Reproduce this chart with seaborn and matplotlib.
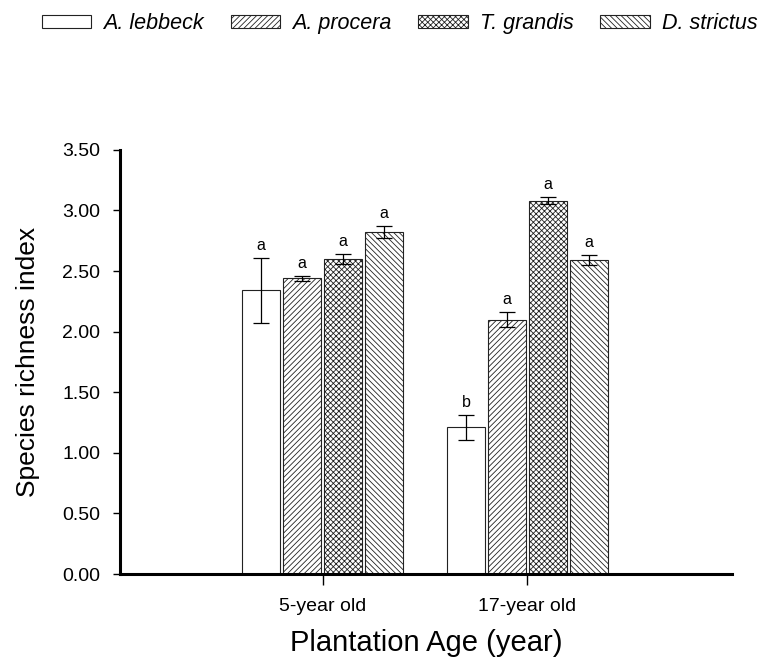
import matplotlib
matplotlib.use("Agg")
import matplotlib.pyplot as plt
import numpy as np
import pandas as pd
import seaborn as sns
from matplotlib.patches import Patch

# data
ages = ["5-year old", "17-year old"]
species = ["A. lebbeck", "A. procera", "T. grandis", "D. strictus"]
richness_5yr = [2.34, 2.44, 2.60, 2.82]
richness_17yr = [1.21, 2.10, 3.08, 2.59]
err_5yr = [0.27, 0.02, 0.04, 0.05]
err_17yr = [0.10, 0.06, 0.03, 0.04]
letters_5yr = ["a", "a", "a", "a"]
letters_17yr = ["b", "a", "a", "a"]

hatches = ["", "//////", "xxxxxx", "\\\\\\\\\\\\"]

df = pd.DataFrame({
    "age": np.repeat(ages, len(species)),
    "species": species * len(ages),
    "value": richness_5yr + richness_17yr,
    "err": err_5yr + err_17yr,
    "letter": letters_5yr + letters_17yr,
})

sns.set_style("ticks")
plt.rcParams["font.family"] = ["Liberation Sans", "DejaVu Sans"]
plt.rcParams["hatch.linewidth"] = 0.6
plt.rcParams["hatch.color"] = "black"
for key in ["text.color", "axes.labelcolor", "xtick.color", "ytick.color", "axes.edgecolor"]:
    plt.rcParams[key] = "black"

fig = plt.figure(figsize=(7.58, 6.66), dpi=100)
ax = fig.add_axes([0.158, 0.138, 0.808, 0.637])

sns.barplot(data=df, x="age", y="value", hue="species", order=ages,
            hue_order=species, palette=["white"] * 4, edgecolor="#222222",
            linewidth=0.8, width=0.8, gap=0.08, errorbar=None, legend=False, ax=ax)

# bars come in hue order, each with one patch per age
for i, sp in enumerate(species):
    for j, age in enumerate(ages):
        bar = ax.patches[i * len(ages) + j]
        bar.set_hatch(hatches[i])
        row = df[(df.age == age) & (df.species == sp)].iloc[0]
        xc = bar.get_x() + bar.get_width() / 2
        ax.errorbar(xc, row.value, yerr=row.err, color="black", capsize=6,
                    elinewidth=0.9, capthick=0.9)
        ax.text(xc, row.value + row.err + 0.04, row.letter, ha="center",
                va="bottom", fontsize=11.5)

ax.set_xlim(-0.99, 2.0)
ax.set_ylim(0, 3.5)
ax.set_yticks(np.arange(0, 3.51, 0.5))
ax.set_yticklabels([f"{v:.2f}" for v in np.arange(0, 3.51, 0.5)], fontsize=14)
ax.tick_params(axis="x", labelsize=14, length=8, width=1, pad=9)
ax.tick_params(axis="y", length=5, width=1, pad=9)
for side in ["left", "bottom"]:
    ax.spines[side].set_linewidth(2.2)
sns.despine(ax=ax)

ax.set_xlabel("Plantation Age (year)", fontsize=21, labelpad=10)
ax.set_ylabel("Species richness index", fontsize=19, labelpad=16)

handles = [Patch(facecolor="white", edgecolor="#222222", hatch=h, linewidth=0.8)
           for h in hatches]
fig.legend(handles, species, loc="upper center", bbox_to_anchor=(0.527, 1.01),
           ncol=4, frameon=False, prop={"style": "italic", "size": 15.5},
           handlelength=2.3, handleheight=0.55, columnspacing=1.25, handletextpad=0.55)

fig.savefig("out.png", dpi=100)
